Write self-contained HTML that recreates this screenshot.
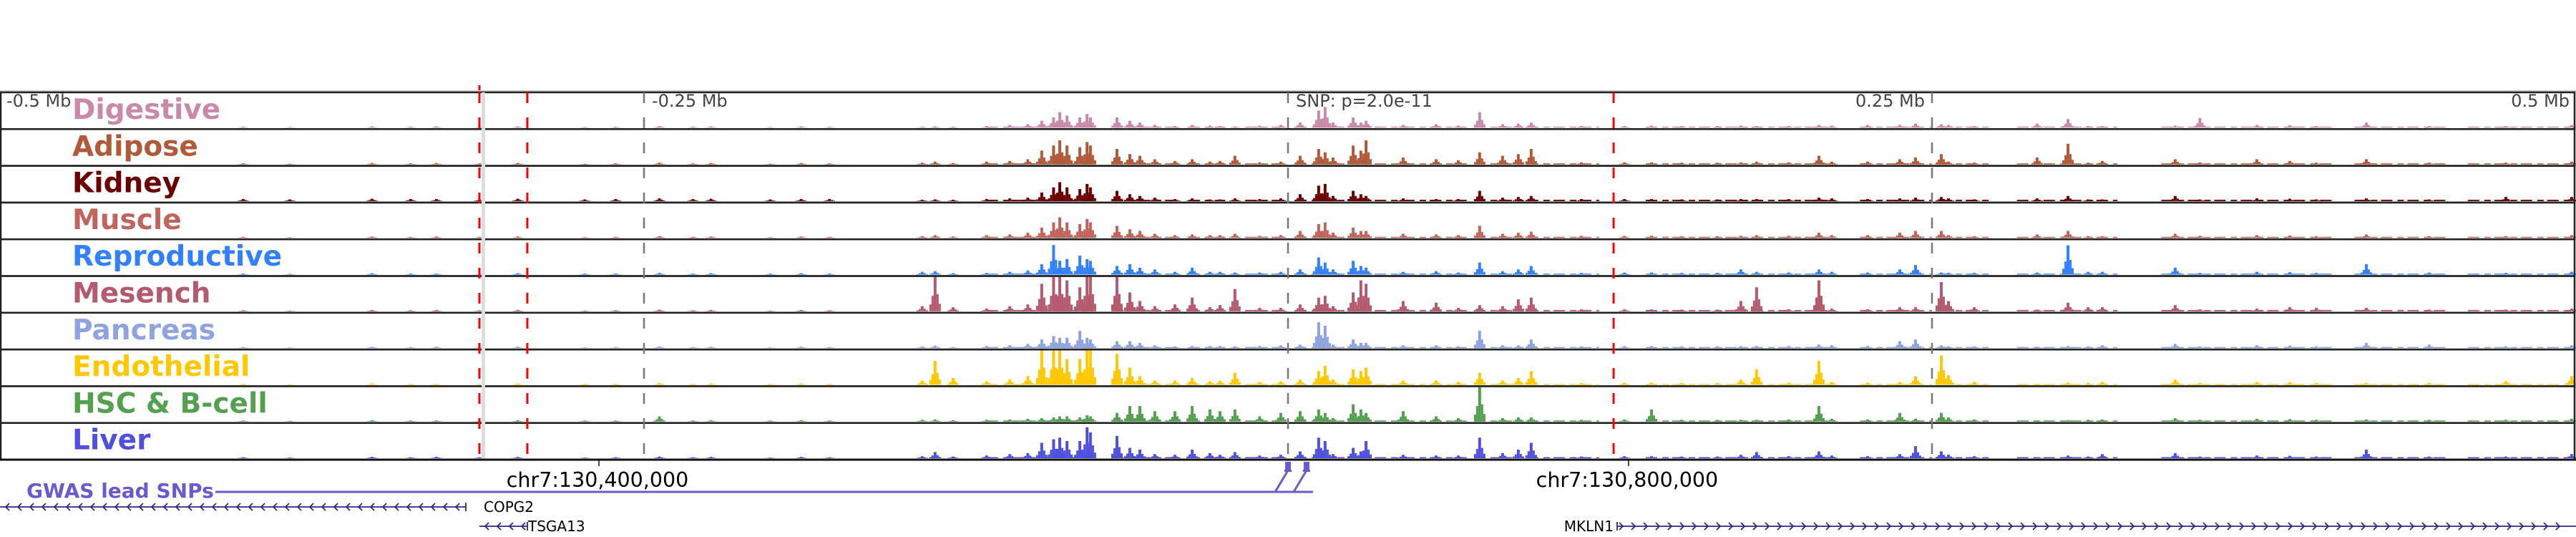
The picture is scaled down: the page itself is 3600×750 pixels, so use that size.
<!DOCTYPE html>
<html><head><meta charset="utf-8"><style>
html,body{margin:0;padding:0;background:#fff;width:3600px;height:750px;overflow:hidden}
svg{display:block}
text{font-family:"DejaVu Sans","Liberation Sans",sans-serif}
</style></head><body>
<svg id="chart" width="3600" height="750" viewBox="0 0 3600 750" xmlns="http://www.w3.org/2000/svg">
<g id="tracks"></g>
<g id="overlay"></g>
<g id="labels"></g>
<g id="bottom"></g>
</svg>
<script>
const trackNames=["Digestive","Adipose","Kidney","Muscle","Reproductive","Mesench","Pancreas","Endothelial","HSC & B-cell","Liver"];
const trackColors=["#c98aa9","#b05a3a","#6b0000","#c0655d","#3380ff","#b5596f","#8fa3e0","#ffc800","#55a050","#5050e0"];
const peakKb=[-405.6,-387.5,-355.6,-340.6,-330.6,-313.9,-299,-273,-261,-244,-231,-224,-201,-189,-178,
-142,-137,-130,-117,-108,-101,-95.6,-91,-88.6,-85.8,-80.8,-78,-76.7,
-66.4,-61.4,-57.5,-51.7,-43.9,-37.2,-30.3,-26.4,-20.6,-11,-2.8,
4.7,11.9,14.4,17.5,25.3,28.3,30.3,44.7,57.5,66.1,74.4,83.3,89.4,94.4,113.9,130.6,
141.1,152.8,166.7,175.8,181.9,194.4,206.1,211.1,225,237.5,243.6,253.6,256.4,266.4,
290.8,302.8,310.6,316.1,344.4,354,376.1,388.9,399.2,418.6,443,472.8,498.3];
const left15=[3,2,4,3,4,3,4,2,3,5,3,4,2,4,3];
const digV=[...left15,3,4,3,5,8,10,20,30,45,35,30,40,30,30,20,15,8,5,8,6,5,4,6,8,15,50,60,15,30,15,20,8,10,6,45,10,12,15,5,5,6,5,5,6,5,5,8,6,8,8,12,10,8,5,12,25,5,5,6,28,8,7,5,15,5,5,8];
const adiV=[...left15,5,8,4,8,10,15,40,55,70,55,50,65,55,45,30,25,15,10,15,8,10,25,6,8,25,45,35,20,55,40,70,20,15,12,35,25,30,45,6,6,6,5,5,6,8,6,25,8,8,15,20,30,8,5,20,60,5,10,15,6,15,10,5,15,5,5,8];
const kidV=[6,5,7,6,6,5,7,5,6,8,6,7,5,6,6,4,5,4,6,8,10,25,40,55,40,35,50,40,30,20,15,10,6,8,5,5,8,6,8,20,45,50,15,30,20,15,8,6,6,30,10,12,15,6,6,6,5,5,6,6,6,10,8,6,8,10,12,8,5,8,15,5,5,15,5,8,7,5,8,5,12,12];
const musV=[...left15,5,8,4,8,10,15,30,45,60,45,40,55,45,35,25,20,12,8,10,8,8,12,6,8,20,40,45,15,30,20,20,12,10,8,35,12,15,18,6,6,6,5,5,6,8,6,15,8,8,15,20,20,8,5,10,20,5,5,12,6,8,7,5,10,5,5,8];
const repV=[3,2,4,3,3,2,4,3,3,5,3,4,3,4,3,8,10,4,5,8,12,30,86,40,45,55,45,40,25,30,20,15,8,20,8,8,6,6,8,15,50,35,15,40,25,20,8,10,6,35,10,15,25,5,6,6,5,5,15,8,6,15,8,6,15,28,6,5,5,6,85,8,8,20,5,8,7,5,30,6,5,8];
const mesV=[...left15,15,100,12,8,15,20,80,100,100,90,70,100,100,100,55,30,15,20,40,12,18,65,10,10,20,40,45,15,55,90,80,30,25,10,18,15,35,40,6,6,6,5,5,30,70,6,90,8,6,12,12,85,30,12,5,25,12,12,18,6,8,12,10,10,5,5,8];
const panV=[...left15,5,7,3,6,8,12,25,35,30,30,50,30,25,20,20,15,8,5,6,6,6,5,6,8,10,75,65,10,25,15,15,8,8,5,50,8,8,25,5,6,6,5,5,6,6,6,10,8,6,20,25,8,5,5,4,6,5,8,12,5,8,7,5,15,10,5,8];
const endV=[3,2,4,3,3,2,4,3,3,5,3,4,3,4,3,12,70,20,10,15,25,100,100,100,75,75,100,100,90,50,25,12,12,20,10,12,35,8,10,15,40,55,15,45,40,50,12,12,8,35,12,20,40,5,6,6,5,5,15,45,6,70,8,6,8,25,85,28,8,3,6,5,8,15,5,8,7,5,5,5,10,25];
const hscV=[3,2,4,3,3,2,4,3,3,15,3,4,3,4,3,5,6,4,5,6,8,10,12,15,15,12,18,15,25,45,45,30,30,45,35,30,35,15,25,30,35,25,10,50,35,25,30,15,10,100,10,12,12,5,6,35,5,5,5,5,6,45,8,6,25,8,25,12,6,3,4,5,6,10,5,8,7,5,6,5,5,8];
const livV=[...left15,6,18,5,8,12,15,45,55,60,50,50,90,75,65,30,25,12,10,25,15,10,18,8,10,20,60,50,12,30,20,50,10,8,8,60,15,25,45,5,6,6,5,5,10,18,6,20,8,6,12,35,20,10,6,3,8,5,12,15,5,8,7,5,25,5,5,12];
const seriesValues=[digV,adiV,kidV,musV,repV,mesV,panV,endV,hscV,livV];
const bgLevel=[3,3,4,3,2.5,4,3,2.5,3,3];
const bgStartKb=[-117,-68.3,-38.6,-16.7,2.8,44.7,72.2,138.9,222,252.8,283,339,414,458];
const bgEndKb=[-75.6,-43,-24.4,-2.8,44.4,69.4,120.8,211.1,250,272,322,405.6,450,500];
const scaleLabels=["-0.5 Mb","-0.25 Mb","SNP: p=2.0e-11","0.25 Mb","0.5 Mb"];
const scaleKb=[-500,-250,0,250,500];
const redLineKb=[-313.9,-295.3,126.4];
const grayLineKb=[-250,0,250];
const axisTickKb=[-267.5,132.2];
const axisTickLabels=["chr7:130,400,000","chr7:130,800,000"];
const snpKb=[0,7.2];

const NS="http://www.w3.org/2000/svg";
const X0=1800, PXKB=3.6;
const xScale=kb=>X0+kb*PXKB;
const TOP=129, TH=51.3, MAXH=48;
const yBase=i=>TOP+(i+1)*TH-2;
const hScale=v=>Math.min(v,100)/100*MAXH;
function mk(tag,attrs,parent){const e=document.createElementNS(NS,tag);for(const k in attrs)e.setAttribute(k,attrs[k]);parent.appendChild(e);return e;}
const tracksG=document.getElementById('tracks');
const labelsG=document.getElementById('labels');
const overlayG=document.getElementById('overlay');
const bottomG=document.getElementById('bottom');

mk('line',{x1:0,x2:3600,y1:TOP-2,y2:TOP-2,stroke:'#ccc','stroke-width':2},tracksG);
trackNames.forEach((name,i)=>{
  const g=mk('g',{},tracksG);
  
  
  const yb=yBase(i), col=trackColors[i], vals=seriesValues[i];
  bgStartKb.forEach((s,k)=>{
    const x1=xScale(s),x2=xScale(bgEndKb[k]);const h=hScale(bgLevel[i]);
    const r=mk('line',{x1:x1,x2:x2,y1:yb-h/2,y2:yb-h/2,stroke:col,'stroke-width':h,'stroke-dasharray':'16 7 9 5'},g);
    
    
  });
  peakKb.forEach((kb,k)=>{
    const cx=xScale(kb), h=hScale(vals[k]);
    const pg=mk('g',{fill:col},g);
    
    
    mk('rect',{x:cx-2,y:yb-h,width:4,height:h},pg);
    mk('rect',{x:cx-5,y:yb-h*0.45,width:3,height:h*0.45},pg);
    mk('rect',{x:cx+2,y:yb-h*0.5,width:3,height:h*0.5},pg);
    mk('rect',{x:cx-8,y:yb-h*0.2,width:3,height:h*0.2},pg);
    mk('rect',{x:cx+5,y:yb-h*0.22,width:3,height:h*0.22},pg);
  });
  const fr=mk('rect',{x:1,y:TOP+i*TH,width:3597,height:TH,fill:'none',stroke:'#222','stroke-width':2.5},g);
  
  
  const t=mk('text',{x:101,y:TOP+i*TH+37,fill:col,'font-size':39,'font-weight':'bold'},labelsG);
  
  
  t.textContent=name;
});
const band=mk('rect',{x:673,y:TOP,width:5,height:TH*10,fill:'#ddd'},overlayG);


grayLineKb.forEach(kb=>{
  const l=mk('line',{x1:xScale(kb),x2:xScale(kb),y1:TOP,y2:TOP+TH*10,stroke:'#777','stroke-width':2.5,'stroke-dasharray':'15 20'},overlayG);
  
  
});
redLineKb.forEach(kb=>{
  const l=mk('line',{x1:xScale(kb),x2:xScale(kb),y1:TOP,y2:TOP+TH*10,stroke:'#f00','stroke-width':3,'stroke-dasharray':'15 20'},overlayG);
  
  
});
mk('line',{x1:670,x2:670,y1:119,y2:126,stroke:'#f00','stroke-width':3},overlayG);
scaleLabels.forEach((s,k)=>{
  let x=xScale(scaleKb[k]), anchor='start';
  if(k===0)x=9; else if(k===4){x=3591;anchor='end';} else if(k===3){x=2690;anchor='end';} else x+=11;
  const t=mk('text',{x:x,y:149,fill:'#444','font-size':24,'text-anchor':anchor},labelsG);
  
  
  t.textContent=s;
});
const axisY=TOP+TH*10;
const ax=mk('line',{x1:0,x2:3600,y1:axisY,y2:axisY,stroke:'#111','stroke-width':3},bottomG);


axisTickKb.forEach((kb,k)=>{
  const x=xScale(kb);
  const tk=mk('line',{x1:x,x2:x,y1:axisY,y2:axisY+9,stroke:'#111','stroke-width':1.5},bottomG);
  
  
  const t=mk('text',{x:x-2,y:680,'font-size':28.5,'text-anchor':'middle',fill:'#000'},bottomG);
  
  
  t.textContent=axisTickLabels[k];
});
const gw=mk('text',{x:37,y:695,'font-size':28,'font-weight':'bold',fill:'#6a5acd'},bottomG);


gw.textContent='GWAS lead SNPs';
const lastSnpX=xScale(snpKb[snpKb.length-1]);
mk('line',{x1:301,x2:lastSnpX+9,y1:687,y2:687,stroke:'#6a5acd','stroke-width':3},bottomG);
snpKb.forEach(kb=>{
  const x=xScale(kb);
  const g=mk('g',{},bottomG);
  
  
  mk('polyline',{points:`${x-18},687 ${x},657`,stroke:'#6a5acd','stroke-width':3,fill:'none'},g);
  mk('rect',{x:x-4,y:645,width:8,height:12,fill:'#6a5acd'},g);
  mk('rect',{x:x-5,y:656,width:10,height:3,fill:'#6a5acd'},g);
});
function gene(name,x1,x2,y,dir,lx,anchor){
  const g=mk('g',{stroke:'#2a2a80',fill:'none','stroke-width':1.8},bottomG);
  
  
  mk('line',{x1:x1,x2:x2,y1:y,y2:y},g);
  for(let x=x1+8;x<x2-6;x+=17){
    const d=dir<0?`M${x+5},${y-5} L${x},${y} L${x+5},${y+5}`:`M${x-5},${y-5} L${x},${y} L${x-5},${y+5}`;
    mk('path',{d:d},g);
  }
  mk('line',{x1:dir<0?x2:x1,x2:dir<0?x2:x1,y1:y-6,y2:y+6},g);
  const t=mk('text',{x:lx,y:y+7,'font-size':20,fill:'#000',stroke:'none','text-anchor':anchor},bottomG);
  
  
  t.textContent=name;
}
gene('COPG2',0,651,708,-1,676,'start');
gene('TSGA13',670,737,735,-1,738,'start');
gene('MKLN1',2260,3600,735,1,2255,'end');
</script>
</body></html>
